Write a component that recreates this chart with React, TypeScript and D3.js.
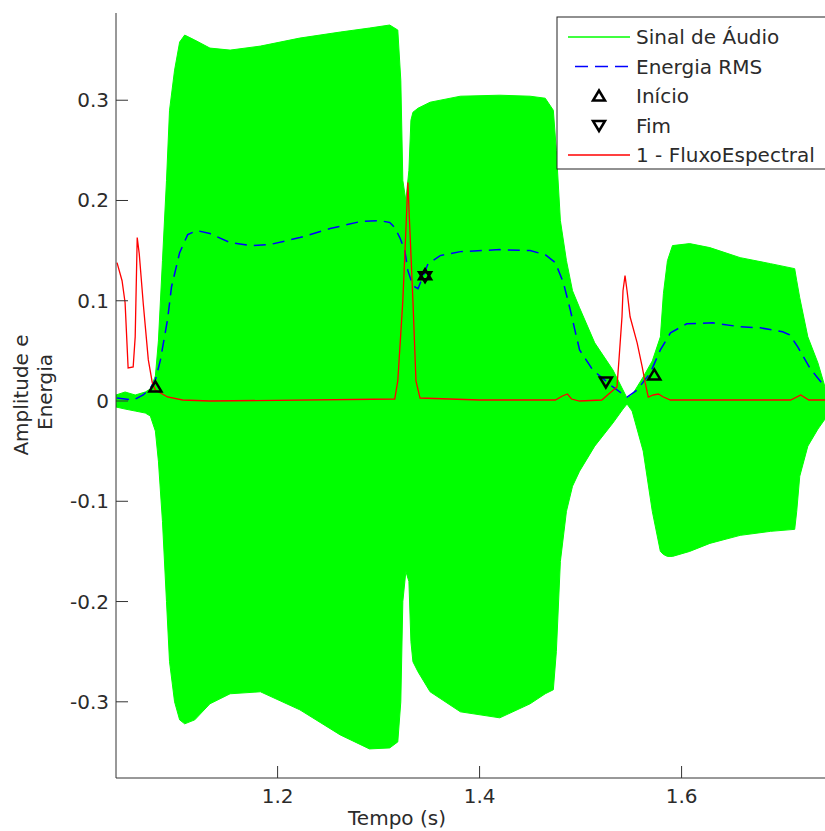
import React from "react";
import * as d3 from "d3";

// ---- Data (time in seconds, values in amplitude units) ----
const audioT = [1.040, 1.049, 1.059, 1.069, 1.074, 1.079, 1.082, 1.086, 1.090, 1.093, 1.098, 1.103, 1.108, 1.118, 1.133, 1.153, 1.183, 1.222, 1.262, 1.291, 1.311, 1.319, 1.322, 1.324, 1.327, 1.330, 1.332, 1.334, 1.339, 1.351, 1.381, 1.420, 1.450, 1.465, 1.473, 1.476, 1.480, 1.486, 1.492, 1.499, 1.514, 1.532, 1.542, 1.546, 1.551, 1.562, 1.571, 1.579, 1.582, 1.586, 1.591, 1.608, 1.628, 1.658, 1.688, 1.712, 1.714, 1.717, 1.725, 1.735, 1.742];
const audioUpper = [0.006, 0.009, 0.006, 0.009, 0.012, 0.025, 0.060, 0.140, 0.220, 0.290, 0.330, 0.358, 0.365, 0.360, 0.352, 0.350, 0.354, 0.362, 0.368, 0.372, 0.375, 0.370, 0.320, 0.220, 0.200, 0.230, 0.280, 0.288, 0.292, 0.298, 0.304, 0.305, 0.304, 0.302, 0.290, 0.250, 0.180, 0.140, 0.110, 0.093, 0.058, 0.031, 0.011, 0.003, 0.006, 0.024, 0.040, 0.064, 0.107, 0.140, 0.155, 0.157, 0.153, 0.143, 0.137, 0.132, 0.120, 0.103, 0.064, 0.038, 0.014];
const audioLower = [-0.006, -0.008, -0.010, -0.012, -0.015, -0.030, -0.060, -0.120, -0.200, -0.260, -0.300, -0.318, -0.322, -0.318, -0.302, -0.292, -0.290, -0.308, -0.333, -0.347, -0.346, -0.340, -0.300, -0.200, -0.170, -0.180, -0.240, -0.260, -0.270, -0.290, -0.310, -0.316, -0.302, -0.292, -0.288, -0.250, -0.160, -0.110, -0.085, -0.070, -0.045, -0.022, -0.008, -0.003, -0.010, -0.050, -0.110, -0.150, -0.153, -0.155, -0.155, -0.150, -0.142, -0.134, -0.130, -0.128, -0.110, -0.075, -0.045, -0.028, -0.018];

const rmsT = [1.041, 1.057, 1.067, 1.074, 1.079, 1.084, 1.091, 1.095, 1.103, 1.111, 1.120, 1.133, 1.153, 1.173, 1.192, 1.222, 1.252, 1.282, 1.301, 1.311, 1.316, 1.321, 1.326, 1.329, 1.334, 1.339, 1.343, 1.349, 1.361, 1.381, 1.420, 1.450, 1.465, 1.475, 1.483, 1.490, 1.495, 1.499, 1.512, 1.532, 1.546, 1.556, 1.569, 1.579, 1.589, 1.605, 1.631, 1.658, 1.678, 1.700, 1.707, 1.715, 1.727, 1.734, 1.742];
const rmsV = [0.003, 0.001, 0.006, 0.013, 0.021, 0.041, 0.081, 0.114, 0.148, 0.166, 0.170, 0.167, 0.158, 0.155, 0.156, 0.163, 0.172, 0.179, 0.180, 0.178, 0.173, 0.163, 0.150, 0.130, 0.115, 0.112, 0.122, 0.137, 0.145, 0.149, 0.151, 0.150, 0.146, 0.138, 0.118, 0.090, 0.068, 0.051, 0.031, 0.014, 0.004, 0.011, 0.028, 0.051, 0.068, 0.077, 0.078, 0.074, 0.073, 0.069, 0.066, 0.054, 0.033, 0.024, 0.014];

const fluxT = [1.041, 1.046, 1.049, 1.052, 1.057, 1.059, 1.061, 1.063, 1.067, 1.072, 1.076, 1.079, 1.091, 1.106, 1.133, 1.316, 1.319, 1.324, 1.327, 1.329, 1.331, 1.334, 1.337, 1.341, 1.400, 1.475, 1.482, 1.487, 1.491, 1.499, 1.521, 1.529, 1.536, 1.538, 1.541, 1.542, 1.544, 1.546, 1.549, 1.556, 1.561, 1.564, 1.567, 1.572, 1.577, 1.582, 1.589, 1.708, 1.718, 1.726, 1.742];
const fluxV = [0.138, 0.120, 0.098, 0.033, 0.034, 0.064, 0.163, 0.147, 0.097, 0.041, 0.018, 0.011, 0.004, 0.001, 0.000, 0.002, 0.020, 0.100, 0.170, 0.218, 0.170, 0.100, 0.020, 0.003, 0.001, 0.001, 0.005, 0.007, 0.002, 0.000, 0.001, 0.008, 0.014, 0.041, 0.084, 0.110, 0.125, 0.110, 0.084, 0.058, 0.034, 0.018, 0.004, 0.006, 0.007, 0.004, 0.001, 0.001, 0.006, 0.001, 0.001];

const inicioT = [1.079, 1.346, 1.573];
const inicioV = [0.014, 0.126, 0.026];
const fimT = [1.346, 1.525];
const fimV = [0.124, 0.019];

const xTicks = [1.2, 1.4, 1.6];
const yTicks = [-0.3, -0.2, -0.1, 0, 0.1, 0.2, 0.3];
const legendLabels = ["Sinal de Áudio", "Energia RMS", "Início", "Fim", "1 - FluxoEspectral"];

const W = 825;
const H = 831;
const FONT = "'DejaVu Sans', Verdana, sans-serif";
const TXT = "#2b2b2b";

const triUp = (cx: number, cy: number) => `M${cx - 6},${cy + 4.5}L${cx + 6},${cy + 4.5}L${cx},${cy - 5.5}Z`;
const triDown = (cx: number, cy: number) => `M${cx - 6},${cy - 4.5}L${cx + 6},${cy - 4.5}L${cx},${cy + 5.5}Z`;

export default function App() {
  const left = 116, right = 825, top = 13, bottom = 778;
  const x = d3.scaleLinear().domain([1.04, 1.742]).range([left, right]);
  const y = d3.scaleLinear().domain([-0.376, 0.387]).range([bottom, top]);

  const audio = audioT.map((t, i) => ({ t, hi: audioUpper[i], lo: audioLower[i] }));
  const areaGen = d3.area<{ t: number; hi: number; lo: number }>()
    .x(d => x(d.t)).y0(d => y(d.lo)).y1(d => y(d.hi));
  const lineGen = d3.line<[number, number]>().x(d => x(d[0])).y(d => y(d[1]));
  const rmsPts = rmsT.map((t, i) => [t, rmsV[i]] as [number, number]);
  const fluxPts = fluxT.map((t, i) => [t, fluxV[i]] as [number, number]);

  const legX = 557, legY = 17, legH = 152, rowH = 29.5;
  const rowY = (i: number) => legY + 20 + i * rowH;

  return (
    <svg width={W} height={H} style={{ position: "absolute", left: 0, top: 0, background: "#fff" }}
      fontFamily={FONT}>
      <defs>
        <clipPath id="plotclip">
          <rect x={left} y={top} width={right - left + 20} height={bottom - top} />
        </clipPath>
      </defs>
      <g clipPath="url(#plotclip)">
        <path d={areaGen(audio) || ""} fill="#00ff00" stroke="#00ff00" strokeWidth={1} />
        <path d={lineGen(rmsPts) || ""} fill="none" stroke="#0000ff" strokeWidth={1.5} strokeDasharray="12,7" />
        <path d={lineGen(fluxPts) || ""} fill="none" stroke="#ff0000" strokeWidth={1.3} />
        {inicioT.map((t, i) => (
          <path key={"i" + i} d={triUp(x(t), y(inicioV[i]))} fill="none" stroke="#000" strokeWidth={2.5} />
        ))}
        {fimT.map((t, i) => (
          <path key={"f" + i} d={triDown(x(t), y(fimV[i]))} fill="none" stroke="#000" strokeWidth={2.5} />
        ))}
      </g>

      {/* axes */}
      <line x1={left} x2={left} y1={top} y2={bottom} stroke="#333" strokeWidth={1} />
      <line x1={left} x2={right} y1={bottom} y2={bottom} stroke="#333" strokeWidth={1} />
      {yTicks.map(v => (
        <g key={"y" + v}>
          <line x1={left} x2={left + 12} y1={y(v)} y2={y(v)} stroke="#333" strokeWidth={1} />
          <text x={left - 7} y={y(v) + 7} textAnchor="end" fontSize={20} fill={TXT}>
            {v === 0 ? "0" : d3.format(".1f")(v).replace("−", "-")}
          </text>
        </g>
      ))}
      {xTicks.map(v => (
        <g key={"x" + v}>
          <line x1={x(v)} x2={x(v)} y1={bottom} y2={bottom - 12} stroke="#333" strokeWidth={1} />
          <text x={x(v)} y={803} textAnchor="middle" fontSize={20} fill={TXT}>{d3.format(".1f")(v)}</text>
        </g>
      ))}
      <text x={397} y={825} textAnchor="middle" fontSize={20} fill={TXT}>Tempo (s)</text>
      <g transform="translate(28,395) rotate(-90)">
        <text x={0} y={0} textAnchor="middle" fontSize={20} fill={TXT}>Amplitude e</text>
      </g>
      <g transform="translate(52,392) rotate(-90)">
        <text x={0} y={0} textAnchor="middle" fontSize={20} fill={TXT}>Energia</text>
      </g>

      {/* legend */}
      <rect x={legX} y={legY} width={320} height={legH} fill="#fff" stroke="#222" strokeWidth={1} />
      <line x1={568} x2={630} y1={rowY(0)} y2={rowY(0)} stroke="#00ff00" strokeWidth={1.5} />
      <line x1={575} x2={630} y1={rowY(1)} y2={rowY(1)} stroke="#0000ff" strokeWidth={1.5} strokeDasharray="13,7" />
      <path d={triUp(599, rowY(2))} fill="none" stroke="#000" strokeWidth={2.5} />
      <path d={triDown(599, rowY(3))} fill="none" stroke="#000" strokeWidth={2.5} />
      <line x1={568} x2={630} y1={rowY(4)} y2={rowY(4)} stroke="#ff0000" strokeWidth={1.3} />
      {legendLabels.map((l, i) => (
        <text key={l} x={636} y={rowY(i) + 7} fontSize={20} fill={TXT}>{l}</text>
      ))}
    </svg>
  );
}
